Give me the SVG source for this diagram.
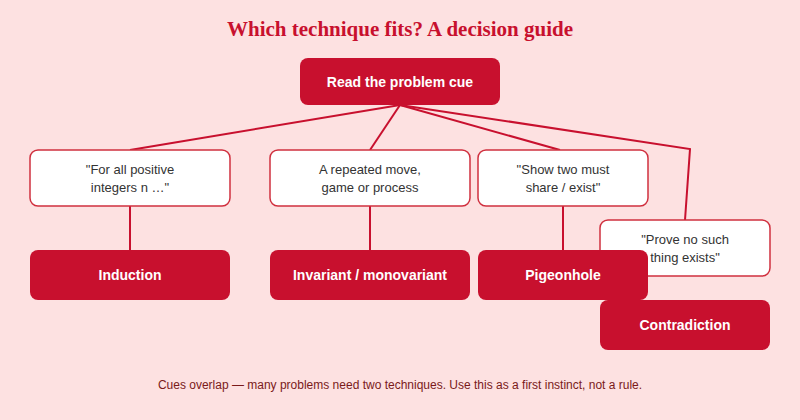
<svg xmlns="http://www.w3.org/2000/svg" width="800" height="420" viewBox="0 0 800 420">
<style>
.cue{fill:#fff;stroke:#d0303f;stroke-width:1.5}
.term{fill:#c8102e}
.ct{font-family:"Liberation Sans",Arial,sans-serif;font-size:13px;fill:#333;text-anchor:middle}
.tt{font-family:"Liberation Sans",Arial,sans-serif;font-size:14px;font-weight:bold;fill:#fff;text-anchor:middle}
.ln{stroke:#c8102e;stroke-width:2;fill:none}
</style>
<rect width="800" height="420" fill="#fde1e1"/>
<text x="400" y="36" text-anchor="middle" font-family="'Liberation Serif','DejaVu Serif',serif" font-weight="bold" font-size="21" fill="#c8102e">Which technique fits? A decision guide</text>
<g id="connectors">
<line class="ln" x1="400" y1="105" x2="130" y2="150"/>
<line class="ln" x1="400" y1="105" x2="370" y2="150"/>
<line class="ln" x1="400" y1="105" x2="560" y2="150"/>
<polyline class="ln" points="400,105 690,149 685,220"/>
<line class="ln" x1="130" y1="206" x2="130" y2="250"/>
<line class="ln" x1="370" y1="206" x2="370" y2="250"/>
<line class="ln" x1="563" y1="206" x2="563" y2="250"/>
</g>
<g id="root"><rect class="term" x="300" y="58" width="200" height="47" rx="8"/><text class="tt" x="400" y="87">Read the problem cue</text></g>
<g id="cue1"><rect class="cue" x="30" y="150" width="200" height="56" rx="8"/><text class="ct" x="130" y="174">"For all positive</text><text class="ct" x="130" y="192">integers n …"</text></g>
<g id="cue2"><rect class="cue" x="270" y="150" width="200" height="56" rx="8"/><text class="ct" x="370" y="174">A repeated move,</text><text class="ct" x="370" y="192">game or process</text></g>
<g id="cue3"><rect class="cue" x="478" y="150" width="170" height="56" rx="8"/><text class="ct" x="563" y="174">"Show two must</text><text class="ct" x="563" y="192">share / exist"</text></g>
<g id="cue4"><rect class="cue" x="600" y="220" width="170" height="56" rx="8"/><text class="ct" x="685" y="244">"Prove no such</text><text class="ct" x="685" y="262">thing exists"</text></g>
<g id="induction"><rect class="term" x="30" y="250" width="200" height="50" rx="8"/><text class="tt" x="130" y="280">Induction</text></g>
<g id="invariant"><rect class="term" x="270" y="250" width="200" height="50" rx="8"/><text class="tt" x="370" y="280">Invariant / monovariant</text></g>
<g id="pigeonhole"><rect class="term" x="478" y="250" width="170" height="50" rx="8"/><text class="tt" x="563" y="280">Pigeonhole</text></g>
<g id="contradiction"><rect class="term" x="600" y="300" width="170" height="50" rx="8"/><text class="tt" x="685" y="330">Contradiction</text></g>
<text x="400" y="389" text-anchor="middle" font-family="'Liberation Sans',Arial,sans-serif" font-size="12" fill="#7a1a1a">Cues overlap — many problems need two techniques. Use this as a first instinct, not a rule.</text>
</svg>
